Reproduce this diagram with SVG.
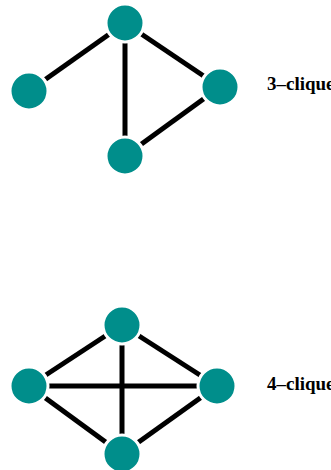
<svg xmlns="http://www.w3.org/2000/svg" width="331" height="470" viewBox="0 0 331 470">
<style>
.e{stroke:#000;stroke-width:5;fill:none}
.n{fill:#008e8b;stroke:#fff;stroke-width:3}
.t{font-family:"Liberation Serif",serif;font-weight:bold;font-size:19px;fill:#000}
</style>
<rect width="331" height="470" fill="#fff"/>
<g id="connectors">
<line class="e" x1="125" y1="23" x2="29" y2="91"/>
<line class="e" x1="125" y1="23" x2="220" y2="87"/>
<line class="e" x1="125" y1="23" x2="125" y2="156"/>
<line class="e" x1="220" y1="87" x2="125" y2="156"/>
<line class="e" x1="122" y1="325" x2="29" y2="386"/>
<line class="e" x1="122" y1="325" x2="217" y2="386"/>
<line class="e" x1="122" y1="325" x2="122" y2="454"/>
<line class="e" x1="29" y1="386" x2="217" y2="386"/>
<line class="e" x1="29" y1="386" x2="122" y2="454"/>
<line class="e" x1="217" y1="386" x2="122" y2="454"/>
</g>
<g id="a1"><circle class="n" cx="125" cy="23" r="19"/></g>
<g id="a2"><circle class="n" cx="29" cy="91" r="19"/></g>
<g id="a3"><circle class="n" cx="220" cy="87" r="19"/></g>
<g id="a4"><circle class="n" cx="125" cy="156" r="19"/></g>
<g id="b1"><circle class="n" cx="122" cy="325" r="19"/></g>
<g id="b2"><circle class="n" cx="29" cy="386" r="19"/></g>
<g id="b3"><circle class="n" cx="217" cy="386" r="19"/></g>
<g id="b4"><circle class="n" cx="122" cy="454" r="19"/></g>
<g id="label3"><text class="t" x="267" y="90">3–clique</text></g>
<g id="label4"><text class="t" x="267" y="390">4–clique</text></g>
</svg>
